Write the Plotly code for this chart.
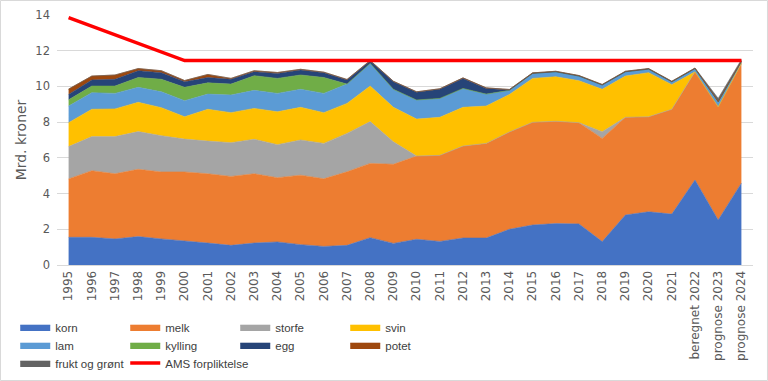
import plotly.graph_objects as go

years = [str(y) for y in range(1995, 2022)] + ["beregnet 2022", "prognose 2023", "prognose 2024"]

korn = [1.55,1.55,1.46,1.59,1.46,1.36,1.23,1.10,1.23,1.29,1.14,1.04,1.10,1.53,1.21,1.44,1.32,1.51,1.51,2.00,2.24,2.32,2.30,1.31,2.80,2.98,2.85,4.76,2.52,4.58]
melk = [3.27,3.73,3.65,3.77,3.75,3.85,3.88,3.86,3.88,3.60,3.89,3.79,4.12,4.16,4.43,4.66,4.82,5.15,5.30,5.45,5.75,5.73,5.67,5.78,5.47,5.32,5.87,6.06,6.34,6.71]
storfe = [1.81,1.91,2.08,2.11,2.03,1.84,1.83,1.89,1.93,1.85,1.97,1.98,2.15,2.34,1.26,0,0,0,0,0,0,0,0,0.37,0,0,0,0,0,0]
svin = [1.34,1.53,1.55,1.64,1.57,1.25,1.78,1.68,1.73,1.84,1.83,1.72,1.68,1.99,1.93,2.07,2.13,2.17,2.09,2.10,2.46,2.49,2.35,2.38,2.31,2.47,1.38,0,0,0]
lam = [0.93,0.93,0.87,0.84,0.89,0.90,0.85,0.99,1.01,1.03,1.01,1.08,1.08,1.27,1.01,1.07,1.06,1.06,0.67,0.23,0.28,0.28,0.26,0.24,0.24,0.20,0.16,0.18,0.29,0.11]
kylling = [0.35,0.37,0.41,0.55,0.70,0.75,0.63,0.61,0.82,0.84,0.80,0.89,0,0,0,0,0,0,0,0,0,0,0,0,0,0,0,0,0,0]
egg = [0.30,0.34,0.38,0.38,0.37,0.31,0.30,0.27,0.22,0.28,0.28,0.27,0.23,0.13,0.42,0.43,0.51,0.56,0.32,0.02,0,0,0,0,0,0,0,0,0,0]
potet = [0.30,0.22,0.24,0.12,0.11,0.07,0.17,0.05,0.06,0.05,0.04,0.03,0.03,0.03,0.03,0.03,0.03,0.03,0.03,0.03,0.03,0.03,0.03,0.03,0.03,0.03,0.03,0.03,0,0]
frukt = [0]*28 + [0.18, 0.10]
ams = [13.85,13.37,12.89,12.41,11.93] + [11.45]*25

series = [
    ("korn", korn, "#4472C4", "legend"),
    ("melk", melk, "#ED7D31", "legend"),
    ("storfe", storfe, "#A5A5A5", "legend"),
    ("svin", svin, "#FFC000", "legend"),
    ("lam", lam, "#5B9BD5", "legend2"),
    ("kylling", kylling, "#70AD47", "legend2"),
    ("egg", egg, "#264478", "legend2"),
    ("potet", potet, "#9E480E", "legend2"),
    ("frukt og grønt", frukt, "#636363", "legend3"),
]

fig = go.Figure()
for name, vals, col, leg in series:
    fig.add_trace(go.Scatter(
        x=years, y=vals, name=name, mode="lines", stackgroup="one",
        line=dict(width=0.6, color=col), fillcolor=col, legend=leg,
    ))
fig.add_trace(go.Scatter(
    x=years, y=ams, name="AMS forpliktelse", mode="lines",
    line=dict(color="#FF0000", width=3.5), legend="legend3", legendwidth=100,
))

legfont = dict(family="Liberation Sans, Arial, sans-serif", size=11.5, color="#404040")
legcommon = dict(orientation="h", x=-0.060, xanchor="left", yanchor="middle",
                 font=legfont, entrywidth=65, entrywidthmode="pixels",
                 traceorder="normal", bgcolor="rgba(0,0,0,0)", itemwidth=30)

fig.update_layout(
    width=768, height=381,
    margin=dict(l=57, r=15, t=15, b=116, autoexpand=False),
    paper_bgcolor="white", plot_bgcolor="white",
    showlegend=True,
    legend=dict(y=-0.248, **legcommon),
    legend2=dict(y=-0.32, **legcommon),
    legend3=dict(y=-0.392, **legcommon),
    xaxis=dict(type="category", range=[-0.5, 29.5], showgrid=False,
               showline=True, linecolor="#D9D9D9", linewidth=1,
               tickangle=-90, ticks="", automargin=False,
               tickfont=dict(family="DejaVu Sans", size=12, color="#595959")),
    yaxis=dict(range=[0, 14], dtick=2, showgrid=True, gridcolor="#D9D9D9",
               gridwidth=1, zeroline=False, ticks="", ticklabelstandoff=6,
               automargin=False,
               tickfont=dict(family="DejaVu Sans", size=11.5, color="#595959"),
               title=dict(text="Mrd. kroner", standoff=5,
                          font=dict(family="DejaVu Sans", size=14, color="#595959"))),
    shapes=[dict(type="rect", xref="paper", yref="paper",
                 x0=-0.0812, x1=1.0208, y0=-0.462, y1=1.058,
                 line=dict(color="#D9D9D9", width=1), layer="below")],
)

fig.write_html("out.html", config={"displayModeBar": False})

with open("out.html", "r", encoding="utf-8") as f:
    html = f.read()
html = html.replace("<head>", "<head><style>html,body{margin:0;padding:0;overflow:hidden;}</style>", 1)
with open("out.html", "w", encoding="utf-8") as f:
    f.write(html)
